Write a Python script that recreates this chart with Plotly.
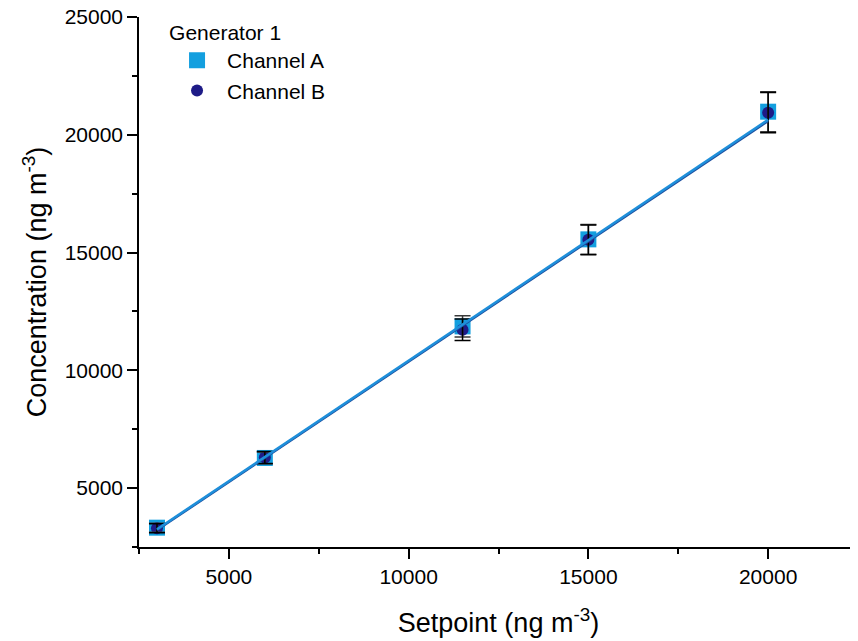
import plotly.graph_objects as go

# ---- data ----
setpoint = [3000, 6000, 11500, 15000, 20000]
channel_a = [3320, 6280, 11865, 15560, 20980]
channel_b = [3300, 6300, 11725, 15540, 20940]
err_a = [190, 250, 455, 630, 850]
err_b = [190, 250, 455, 630, 850]
fit_x = [3000, 20000]
fit_a = [3250, 20640]
fit_b = [3220, 20590]

x_ticks = [5000, 10000, 15000, 20000]
y_ticks = [5000, 10000, 15000, 20000, 25000]

COL_A = "#139FDF"
COL_B = "#1E1B87"
FONT = "Arial, Liberation Sans, sans-serif"

fig = go.Figure()

fig.add_trace(go.Scatter(
    x=setpoint, y=channel_a, mode="markers", name="Channel A",
    marker=dict(symbol="square", size=16, color=COL_A),
))
fig.add_trace(go.Scatter(
    x=setpoint, y=channel_b, mode="markers", name="Channel B",
    marker=dict(symbol="circle", size=12, color=COL_B),
))
# error bars drawn above the markers
fig.add_trace(go.Scatter(
    x=setpoint, y=channel_a, mode="markers", showlegend=False, hoverinfo="skip",
    marker=dict(size=1, color="rgba(0,0,0,0)"),
    error_y=dict(type="data", array=err_a, color="#3a3a3a", thickness=1.5, width=8),
))
fig.add_trace(go.Scatter(
    x=setpoint, y=channel_b, mode="markers", showlegend=False, hoverinfo="skip",
    marker=dict(size=1, color="rgba(0,0,0,0)"),
    error_y=dict(type="data", array=err_b, color="black", thickness=1.5, width=8),
))
# linear fits
fig.add_trace(go.Scatter(
    x=fit_x, y=fit_b, mode="lines", showlegend=False, hoverinfo="skip",
    line=dict(color="#1D4E9E", width=2.5),
))
fig.add_trace(go.Scatter(
    x=fit_x, y=fit_a, mode="lines", showlegend=False, hoverinfo="skip",
    line=dict(color="#1E8FDA", width=2.5),
))

axis_common = dict(
    showline=True, linecolor="black", linewidth=1.5, mirror=False,
    ticks="outside", ticklen=10, tickwidth=1.5, tickcolor="black",
    showgrid=False, zeroline=False, tickformat="d", automargin=False,
    ticklabeloverflow="allow",
    tickfont=dict(family=FONT, size=21, color="black"),
    minor=dict(ticks="outside", ticklen=5, tickwidth=1.5, tickcolor="black",
               dtick=2500, tick0=0, showgrid=False),
)

# the page body adds an 8px offset, so the figure is sized to fill the rest
fig.update_layout(
    width=850, height=633,
    margin=dict(l=131, r=0, t=9, b=93.5),
    plot_bgcolor="white", paper_bgcolor="white",
    font=dict(family=FONT, color="black"),
    xaxis=dict(
        range=[2500, 22500], tickvals=x_ticks, ticktext=[str(v) for v in x_ticks],
        title=dict(text="Setpoint (ng m<sup>-3</sup>)", font=dict(family=FONT, size=27), standoff=26),
        **axis_common,
    ),
    yaxis=dict(
        range=[2500, 25000.01], tickvals=y_ticks, ticktext=[str(v) for v in y_ticks],
        title=dict(text="Concentration (ng m<sup>-3</sup>)", font=dict(family=FONT, size=27), standoff=10),
        **axis_common,
    ),
    legend=dict(
        x=0.039, y=1.008, xanchor="left", yanchor="top",
        bgcolor="rgba(0,0,0,0)",
        title=dict(text="Generator 1", font=dict(family=FONT, size=21)),
        font=dict(family=FONT, size=21, color="black"),
        itemsizing="trace", itemwidth=50, tracegroupgap=0,
    ),
    showlegend=True,
)

fig.write_html("out.html")
